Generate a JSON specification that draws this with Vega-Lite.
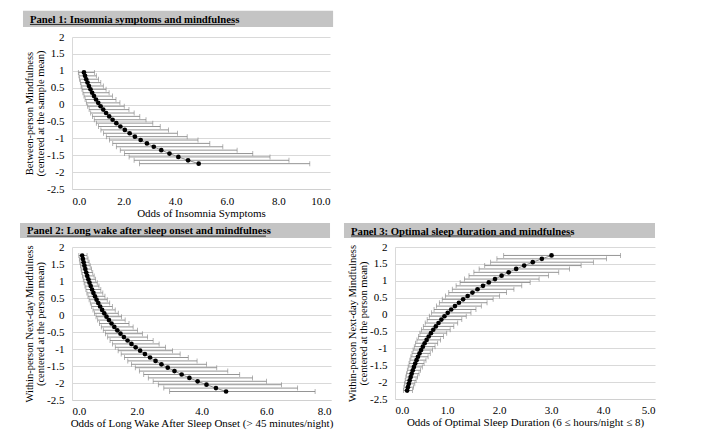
{
  "$schema": "https://vega.github.io/schema/vega-lite/v6.json",
  "background": "white",
  "padding": {"left": 20, "top": 10, "right": 5, "bottom": 5},
  "config": {
    "font": "Liberation Serif",
    "view": {"stroke": null},
    "axis": {"labelFont": "Liberation Serif", "titleFont": "Liberation Serif", "labelFontSize": 11, "titleFontSize": 11, "titleFontWeight": "normal", "labelColor": "#000", "titleColor": "#000", "ticks": false, "gridColor": "#d9d9d9", "domainColor": "#d9d9d9", "labelOverlap": false},
    "text": {"font": "Liberation Serif"}
  },
  "datasets": {
    "p1": [
      {"m": 0.95, "odds": 0.463, "lo": 0.246, "hi": 0.868},
      {"m": 0.85, "odds": 0.505, "lo": 0.270, "hi": 0.943},
      {"m": 0.75, "odds": 0.551, "lo": 0.296, "hi": 1.026},
      {"m": 0.65, "odds": 0.601, "lo": 0.324, "hi": 1.116},
      {"m": 0.55, "odds": 0.656, "lo": 0.355, "hi": 1.214},
      {"m": 0.45, "odds": 0.716, "lo": 0.388, "hi": 1.321},
      {"m": 0.35, "odds": 0.782, "lo": 0.425, "hi": 1.438},
      {"m": 0.25, "odds": 0.853, "lo": 0.465, "hi": 1.566},
      {"m": 0.15, "odds": 0.931, "lo": 0.508, "hi": 1.705},
      {"m": 0.05, "odds": 1.016, "lo": 0.556, "hi": 1.858},
      {"m": -0.05, "odds": 1.109, "lo": 0.608, "hi": 2.025},
      {"m": -0.15, "odds": 1.211, "lo": 0.664, "hi": 2.208},
      {"m": -0.25, "odds": 1.321, "lo": 0.725, "hi": 2.409},
      {"m": -0.35, "odds": 1.442, "lo": 0.792, "hi": 2.628},
      {"m": -0.45, "odds": 1.574, "lo": 0.864, "hi": 2.869},
      {"m": -0.55, "odds": 1.718, "lo": 0.943, "hi": 3.132},
      {"m": -0.65, "odds": 1.875, "lo": 1.028, "hi": 3.420},
      {"m": -0.75, "odds": 2.047, "lo": 1.121, "hi": 3.737},
      {"m": -0.85, "odds": 2.234, "lo": 1.222, "hi": 4.085},
      {"m": -0.95, "odds": 2.438, "lo": 1.331, "hi": 4.465},
      {"m": -1.05, "odds": 2.661, "lo": 1.450, "hi": 4.884},
      {"m": -1.15, "odds": 2.904, "lo": 1.579, "hi": 5.342},
      {"m": -1.25, "odds": 3.170, "lo": 1.719, "hi": 5.846},
      {"m": -1.35, "odds": 3.460, "lo": 1.871, "hi": 6.400},
      {"m": -1.45, "odds": 3.777, "lo": 2.035, "hi": 7.007},
      {"m": -1.55, "odds": 4.122, "lo": 2.213, "hi": 7.675},
      {"m": -1.65, "odds": 4.499, "lo": 2.407, "hi": 8.410},
      {"m": -1.75, "odds": 4.910, "lo": 2.616, "hi": 9.217}
    ],
    "p2": [
      {"m": 1.75, "odds": 0.314, "lo": 0.211, "hi": 0.465},
      {"m": 1.65, "odds": 0.336, "lo": 0.227, "hi": 0.495},
      {"m": 1.55, "odds": 0.359, "lo": 0.244, "hi": 0.528},
      {"m": 1.45, "odds": 0.384, "lo": 0.262, "hi": 0.563},
      {"m": 1.35, "odds": 0.412, "lo": 0.282, "hi": 0.601},
      {"m": 1.25, "odds": 0.440, "lo": 0.303, "hi": 0.641},
      {"m": 1.15, "odds": 0.471, "lo": 0.325, "hi": 0.684},
      {"m": 1.05, "odds": 0.505, "lo": 0.349, "hi": 0.730},
      {"m": 0.95, "odds": 0.540, "lo": 0.374, "hi": 0.780},
      {"m": 0.85, "odds": 0.578, "lo": 0.401, "hi": 0.833},
      {"m": 0.75, "odds": 0.619, "lo": 0.430, "hi": 0.890},
      {"m": 0.65, "odds": 0.662, "lo": 0.461, "hi": 0.952},
      {"m": 0.55, "odds": 0.709, "lo": 0.494, "hi": 1.018},
      {"m": 0.45, "odds": 0.759, "lo": 0.529, "hi": 1.089},
      {"m": 0.35, "odds": 0.812, "lo": 0.566, "hi": 1.165},
      {"m": 0.25, "odds": 0.869, "lo": 0.606, "hi": 1.247},
      {"m": 0.15, "odds": 0.931, "lo": 0.649, "hi": 1.335},
      {"m": 0.05, "odds": 0.996, "lo": 0.694, "hi": 1.430},
      {"m": -0.05, "odds": 1.066, "lo": 0.742, "hi": 1.532},
      {"m": -0.15, "odds": 1.141, "lo": 0.793, "hi": 1.642},
      {"m": -0.25, "odds": 1.221, "lo": 0.847, "hi": 1.761},
      {"m": -0.35, "odds": 1.307, "lo": 0.905, "hi": 1.888},
      {"m": -0.45, "odds": 1.399, "lo": 0.967, "hi": 2.025},
      {"m": -0.55, "odds": 1.498, "lo": 1.032, "hi": 2.174},
      {"m": -0.65, "odds": 1.603, "lo": 1.102, "hi": 2.333},
      {"m": -0.75, "odds": 1.716, "lo": 1.175, "hi": 2.506},
      {"m": -0.85, "odds": 1.837, "lo": 1.254, "hi": 2.691},
      {"m": -0.95, "odds": 1.966, "lo": 1.337, "hi": 2.891},
      {"m": -1.05, "odds": 2.104, "lo": 1.425, "hi": 3.107},
      {"m": -1.15, "odds": 2.252, "lo": 1.519, "hi": 3.340},
      {"m": -1.25, "odds": 2.411, "lo": 1.619, "hi": 3.591},
      {"m": -1.35, "odds": 2.581, "lo": 1.724, "hi": 3.863},
      {"m": -1.45, "odds": 2.762, "lo": 1.836, "hi": 4.155},
      {"m": -1.55, "odds": 2.957, "lo": 1.955, "hi": 4.471},
      {"m": -1.65, "odds": 3.165, "lo": 2.081, "hi": 4.812},
      {"m": -1.75, "odds": 3.387, "lo": 2.215, "hi": 5.180},
      {"m": -1.85, "odds": 3.626, "lo": 2.357, "hi": 5.577},
      {"m": -1.95, "odds": 3.881, "lo": 2.507, "hi": 6.006},
      {"m": -2.05, "odds": 4.154, "lo": 2.667, "hi": 6.469},
      {"m": -2.15, "odds": 4.446, "lo": 2.836, "hi": 6.969},
      {"m": -2.25, "odds": 4.759, "lo": 3.016, "hi": 7.509}
    ],
    "p3": [
      {"m": 1.75, "odds": 3.010, "lo": 2.090, "hi": 4.336},
      {"m": 1.65, "odds": 2.824, "lo": 1.960, "hi": 4.067},
      {"m": 1.55, "odds": 2.649, "lo": 1.839, "hi": 3.815},
      {"m": 1.45, "odds": 2.484, "lo": 1.725, "hi": 3.579},
      {"m": 1.35, "odds": 2.330, "lo": 1.618, "hi": 3.357},
      {"m": 1.25, "odds": 2.186, "lo": 1.517, "hi": 3.149},
      {"m": 1.15, "odds": 2.050, "lo": 1.423, "hi": 2.953},
      {"m": 1.05, "odds": 1.923, "lo": 1.335, "hi": 2.771},
      {"m": 0.95, "odds": 1.804, "lo": 1.252, "hi": 2.599},
      {"m": 0.85, "odds": 1.692, "lo": 1.175, "hi": 2.438},
      {"m": 0.75, "odds": 1.587, "lo": 1.102, "hi": 2.287},
      {"m": 0.65, "odds": 1.489, "lo": 1.034, "hi": 2.145},
      {"m": 0.55, "odds": 1.397, "lo": 0.969, "hi": 2.012},
      {"m": 0.45, "odds": 1.310, "lo": 0.909, "hi": 1.887},
      {"m": 0.35, "odds": 1.229, "lo": 0.853, "hi": 1.770},
      {"m": 0.25, "odds": 1.153, "lo": 0.800, "hi": 1.660},
      {"m": 0.15, "odds": 1.081, "lo": 0.751, "hi": 1.557},
      {"m": 0.05, "odds": 1.014, "lo": 0.704, "hi": 1.461},
      {"m": -0.05, "odds": 0.951, "lo": 0.660, "hi": 1.370},
      {"m": -0.15, "odds": 0.892, "lo": 0.619, "hi": 1.285},
      {"m": -0.25, "odds": 0.837, "lo": 0.581, "hi": 1.206},
      {"m": -0.35, "odds": 0.785, "lo": 0.545, "hi": 1.131},
      {"m": -0.45, "odds": 0.736, "lo": 0.511, "hi": 1.061},
      {"m": -0.55, "odds": 0.691, "lo": 0.479, "hi": 0.995},
      {"m": -0.65, "odds": 0.648, "lo": 0.450, "hi": 0.933},
      {"m": -0.75, "odds": 0.608, "lo": 0.422, "hi": 0.875},
      {"m": -0.85, "odds": 0.570, "lo": 0.396, "hi": 0.821},
      {"m": -0.95, "odds": 0.535, "lo": 0.371, "hi": 0.770},
      {"m": -1.05, "odds": 0.502, "lo": 0.348, "hi": 0.723},
      {"m": -1.15, "odds": 0.471, "lo": 0.327, "hi": 0.678},
      {"m": -1.25, "odds": 0.441, "lo": 0.306, "hi": 0.636},
      {"m": -1.35, "odds": 0.414, "lo": 0.287, "hi": 0.596},
      {"m": -1.45, "odds": 0.388, "lo": 0.270, "hi": 0.559},
      {"m": -1.55, "odds": 0.364, "lo": 0.253, "hi": 0.525},
      {"m": -1.65, "odds": 0.342, "lo": 0.237, "hi": 0.492},
      {"m": -1.75, "odds": 0.320, "lo": 0.222, "hi": 0.462},
      {"m": -1.85, "odds": 0.301, "lo": 0.209, "hi": 0.433},
      {"m": -1.95, "odds": 0.282, "lo": 0.196, "hi": 0.406},
      {"m": -2.05, "odds": 0.265, "lo": 0.184, "hi": 0.381},
      {"m": -2.15, "odds": 0.248, "lo": 0.172, "hi": 0.357},
      {"m": -2.25, "odds": 0.233, "lo": 0.162, "hi": 0.335}
    ]
  },
  "spacing": 4,
  "vconcat": [
    {
      "width": 258, "height": 152,
      "layer": [
        {
          "data": {"name": "p1"},
          "encoding": {
            "y": {"field": "m", "type": "quantitative", "scale": {"domain": [-2.5, 2], "nice": false, "zero": false},
                  "axis": {"values": [-2.5, -2, -1.5, -1, -0.5, 0, 0.5, 1, 1.5, 2], "tickCount": 20, "ticks": false, "labelExpr": "datum.value + ''", "grid": true, "labelPadding": 8, "titlePadding": 1, "titleFontSize": 10.5, "titleLineHeight": 11, "labelFont": "Liberation Serif", "titleFont": "Liberation Serif", "title": ["Between-person Mindfulness", "(centered at the sample mean)"]}},
            "x": {"field": "odds", "type": "quantitative", "scale": {"domain": [0, 10], "nice": false, "zero": false},
                  "axis": {"values": [0, 2, 4, 6, 8, 10], "tickCount": 20, "ticks": false, "format": ".1f", "grid": false, "labelPadding": 6, "titlePadding": 1, "domainColor": "#d0d0d0", "labelFont": "Liberation Serif", "titleFont": "Liberation Serif", "title": "Odds of Insomnia Symptoms"}}
          },
          "layer": [
            {"mark": {"type": "errorbar", "ticks": true, "size": 5, "thickness": 0.8, "color": "#7a7a7a"},
             "encoding": {"x": {"field": "lo", "type": "quantitative", "title": "Odds of Insomnia Symptoms"}, "x2": {"field": "hi"}}},
            {"mark": {"type": "line", "color": "#8a8a8a", "strokeWidth": 1}, "encoding": {}},
            {"mark": {"type": "point", "filled": true, "color": "#000", "size": 22, "opacity": 1}, "encoding": {}}
          ]
        },
        {
          "data": {"values": [{"title": "Panel 1: Insomnia symptoms and mindfulness"}]},
          "layer": [
            {"mark": {"type": "rect", "color": "#c4c4c4"},
             "encoding": {"x": {"datum": -1.9, "type": "quantitative"}, "x2": {"datum": 10.12}, "y": {"datum": 2.775, "type": "quantitative"}, "y2": {"datum": 2.298}}},
            {"mark": {"type": "text", "align": "left", "baseline": "alphabetic", "fontWeight": "bold", "fontSize": 10.7, "color": "#000", "font": "Liberation Serif"},
             "encoding": {"x": {"datum": -1.63, "type": "quantitative"}, "y": {"datum": 2.417, "type": "quantitative"}, "text": {"field": "title"}}},
            {"mark": {"type": "rule", "color": "#000", "strokeWidth": 0.8},
             "encoding": {"x": {"datum": -1.63, "type": "quantitative"}, "x2": {"datum": 6.32}, "y": {"datum": 2.372, "type": "quantitative"}}}
          ]
        }
      ]
    },
    {
      "spacing": 9,
      "hconcat": [
        {
          "width": 259, "height": 153,
          "layer": [
            {
              "data": {"name": "p2"},
              "encoding": {
                "y": {"field": "m", "type": "quantitative", "scale": {"domain": [-2.5, 2], "nice": false, "zero": false},
                      "axis": {"values": [-2.5, -2, -1.5, -1, -0.5, 0, 0.5, 1, 1.5, 2], "tickCount": 20, "ticks": false, "labelExpr": "datum.value + ''", "grid": true, "labelPadding": 8, "titlePadding": 1, "titleFontSize": 10.5, "titleLineHeight": 11, "labelFont": "Liberation Serif", "titleFont": "Liberation Serif", "title": ["Within-person Next-day Mindfulness", "(centered at the person mean)"]}},
                "x": {"field": "odds", "type": "quantitative", "scale": {"domain": [0, 8], "nice": false, "zero": false},
                      "axis": {"values": [0, 2, 4, 6, 8], "tickCount": 20, "ticks": false, "format": ".1f", "grid": false, "labelPadding": 5, "titlePadding": 1, "domainColor": "#d0d0d0", "labelFont": "Liberation Serif", "titleFont": "Liberation Serif", "title": "Odds of Long Wake After Sleep Onset (> 45 minutes/night)"}}
              },
              "layer": [
                {"mark": {"type": "errorbar", "ticks": true, "size": 5, "thickness": 0.8, "color": "#7a7a7a"},
                 "encoding": {"x": {"field": "lo", "type": "quantitative", "title": "Odds of Long Wake After Sleep Onset (> 45 minutes/night)"}, "x2": {"field": "hi"}}},
                {"mark": {"type": "line", "color": "#8a8a8a", "strokeWidth": 1}, "encoding": {}},
                {"mark": {"type": "point", "filled": true, "color": "#000", "size": 22, "opacity": 1}, "encoding": {}}
              ]
            },
            {
              "data": {"values": [{"title": "Panel 2: Long wake after sleep onset and mindfulness"}]},
              "layer": [
                {"mark": {"type": "rect", "color": "#c4c4c4"},
                 "encoding": {"x": {"datum": -1.606, "type": "quantitative"}, "x2": {"datum": 7.97}, "y": {"datum": 2.706, "type": "quantitative"}, "y2": {"datum": 2.265}}},
                {"mark": {"type": "text", "align": "left", "baseline": "alphabetic", "fontWeight": "bold", "fontSize": 10.7, "color": "#000", "font": "Liberation Serif"},
                 "encoding": {"x": {"datum": -1.39, "type": "quantitative"}, "y": {"datum": 2.368, "type": "quantitative"}, "text": {"field": "title"}}},
                {"mark": {"type": "rule", "color": "#000", "strokeWidth": 0.8},
                 "encoding": {"x": {"datum": -1.39, "type": "quantitative"}, "x2": {"datum": 5.99}, "y": {"datum": 2.32, "type": "quantitative"}}}
              ]
            }
          ]
        },
        {
          "width": 260, "height": 152,
          "layer": [
            {
              "data": {"name": "p3"},
              "encoding": {
                "y": {"field": "m", "type": "quantitative", "scale": {"domain": [-2.5, 2], "nice": false, "zero": false},
                      "axis": {"values": [-2.5, -2, -1.5, -1, -0.5, 0, 0.5, 1, 1.5, 2], "tickCount": 20, "ticks": false, "labelExpr": "datum.value + ''", "grid": true, "labelPadding": 8, "titlePadding": 1, "titleFontSize": 10.5, "titleLineHeight": 11, "labelFont": "Liberation Serif", "titleFont": "Liberation Serif", "title": ["Within-person Next-day Mindfulness", "(centered at the person mean)"]}},
                "x": {"field": "odds", "type": "quantitative", "scale": {"domain": [0, 5], "nice": false, "zero": false},
                      "axis": {"values": [0, 1, 2, 3, 4, 5], "tickCount": 20, "ticks": false, "format": ".1f", "grid": false, "labelPadding": 5, "titlePadding": 1, "domainColor": "#d0d0d0", "labelFont": "Liberation Serif", "titleFont": "Liberation Serif", "title": "Odds of Optimal Sleep Duration (6 ≤ hours/night ≤ 8)"}}
              },
              "layer": [
                {"mark": {"type": "errorbar", "ticks": true, "size": 5, "thickness": 0.8, "color": "#7a7a7a"},
                 "encoding": {"x": {"field": "lo", "type": "quantitative", "title": "Odds of Optimal Sleep Duration (6 ≤ hours/night ≤ 8)"}, "x2": {"field": "hi"}}},
                {"mark": {"type": "line", "color": "#8a8a8a", "strokeWidth": 1}, "encoding": {}},
                {"mark": {"type": "point", "filled": true, "color": "#000", "size": 22, "opacity": 1}, "encoding": {}}
              ]
            },
            {
              "data": {"values": [{"title": "Panel 3: Optimal sleep duration and mindfulness"}]},
              "layer": [
                {"mark": {"type": "rect", "color": "#c4c4c4"},
                 "encoding": {"x": {"datum": -0.981, "type": "quantitative"}, "x2": {"datum": 5.0}, "y": {"datum": 2.71, "type": "quantitative"}, "y2": {"datum": 2.266}}},
                {"mark": {"type": "text", "align": "left", "baseline": "alphabetic", "fontWeight": "bold", "fontSize": 10.7, "color": "#000", "font": "Liberation Serif"},
                 "encoding": {"x": {"datum": -0.846, "type": "quantitative"}, "y": {"datum": 2.37, "type": "quantitative"}, "text": {"field": "title"}}},
                {"mark": {"type": "rule", "color": "#000", "strokeWidth": 0.8},
                 "encoding": {"x": {"datum": -0.846, "type": "quantitative"}, "x2": {"datum": 3.385}, "y": {"datum": 2.326, "type": "quantitative"}}}
              ]
            }
          ]
        }
      ]
    }
  ]
}
